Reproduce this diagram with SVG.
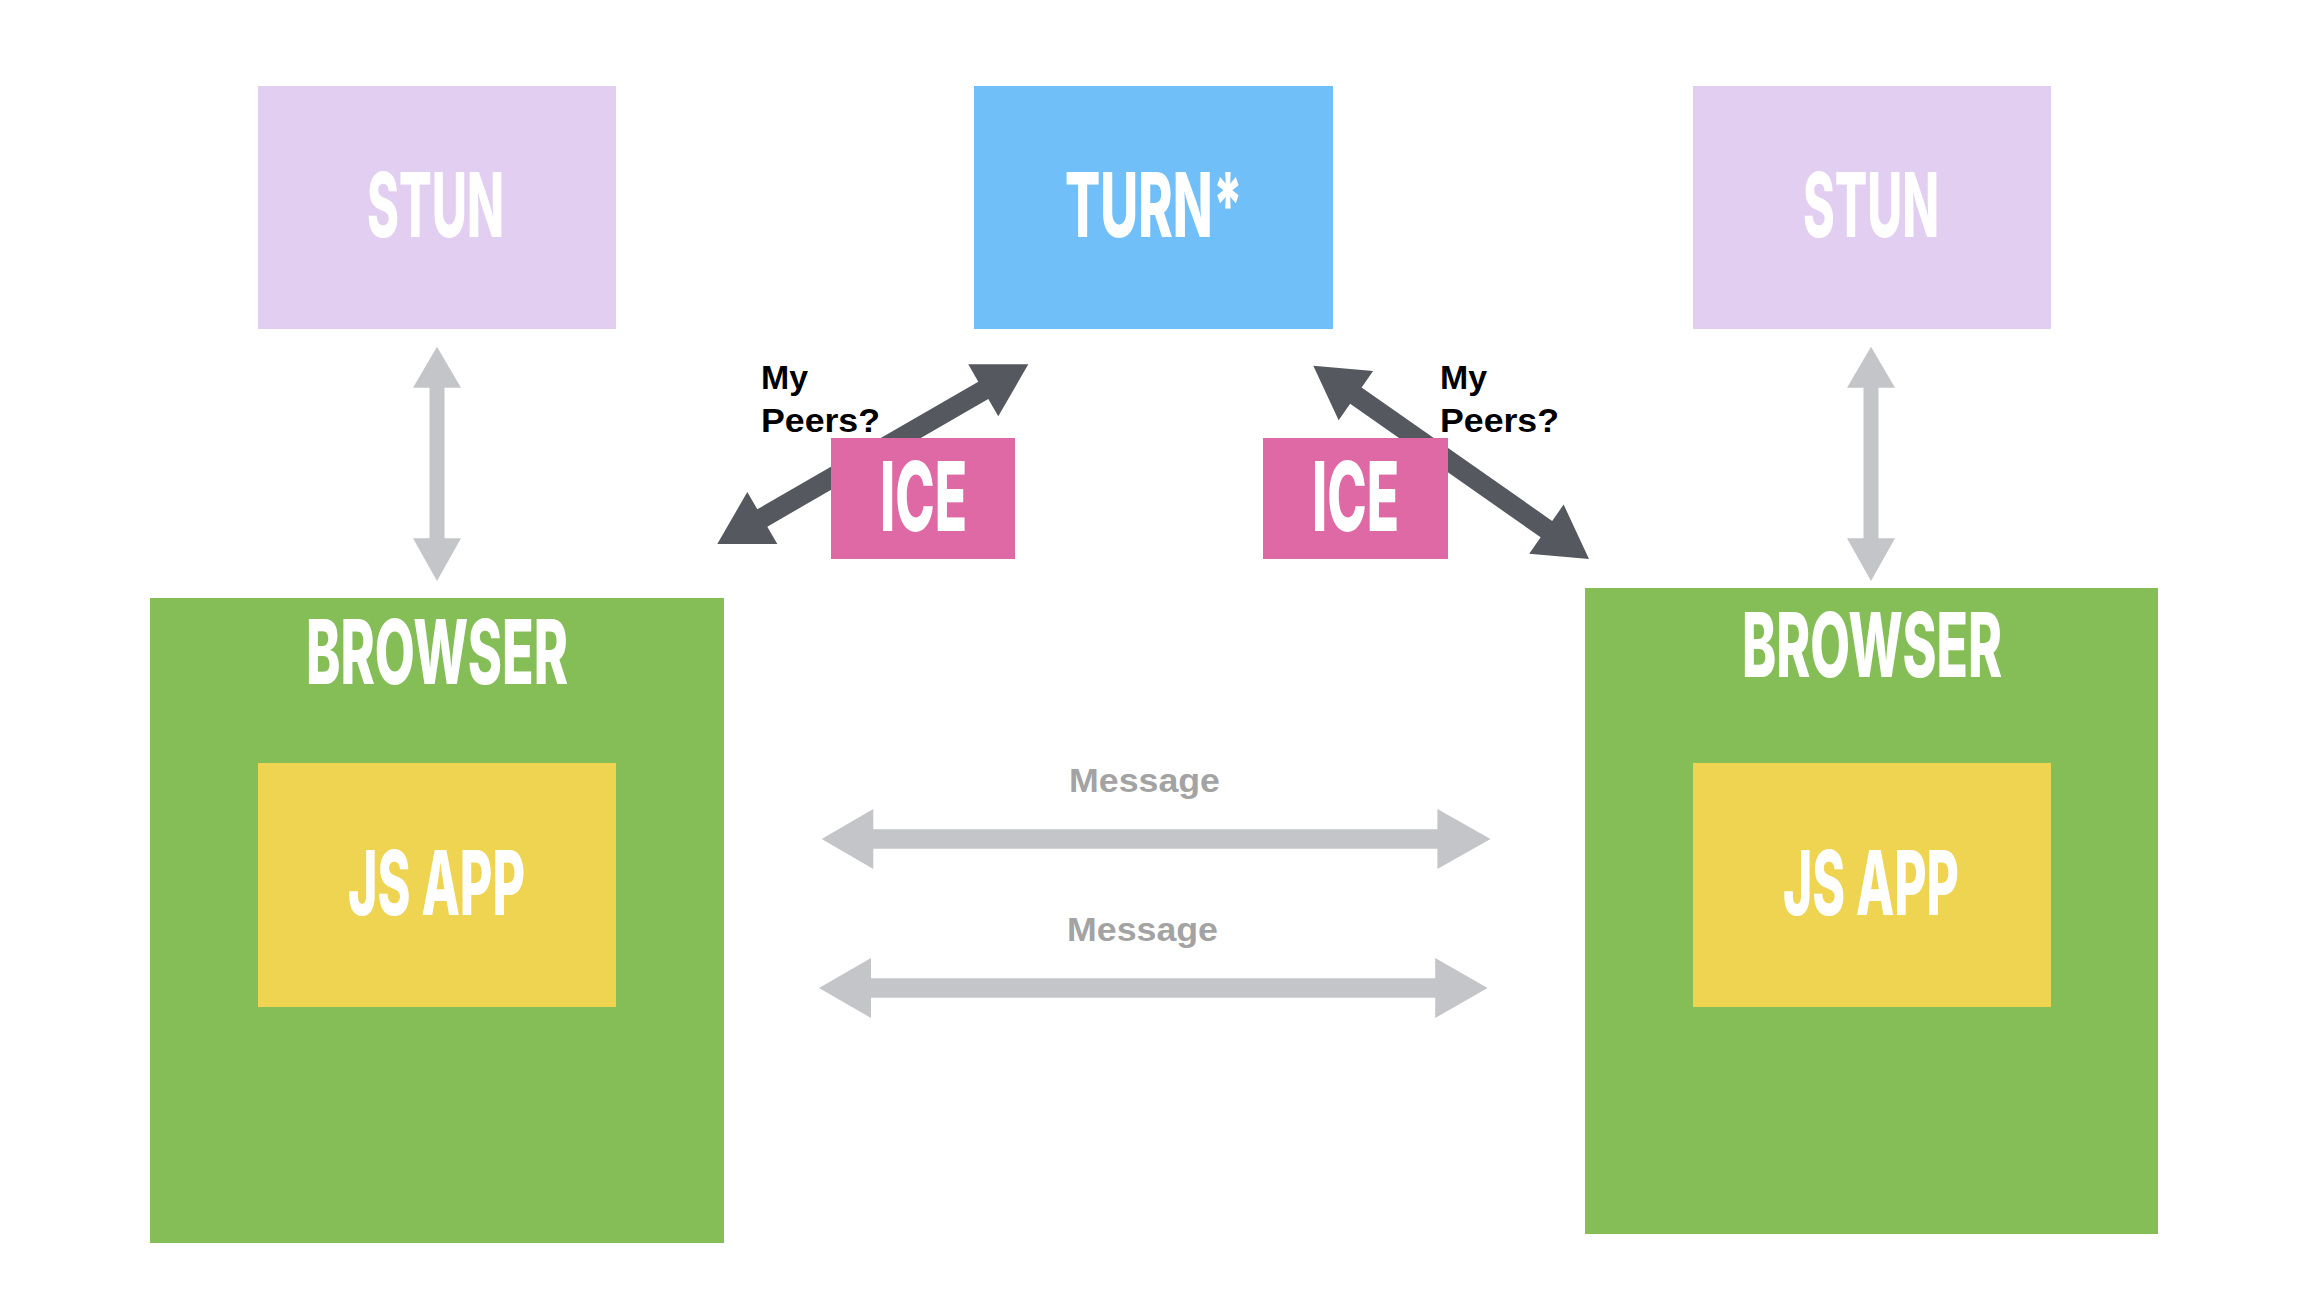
<svg xmlns="http://www.w3.org/2000/svg" width="2314" height="1302" viewBox="0 0 2314 1302">
  <style>
    .bg { fill: #ffffff; }
    .stun { fill: #E1CEF1; }
    .turn { fill: #71BFF8; }
    .ice { fill: #DF69A4; }
    .browser { fill: #85BD57; }
    .app { fill: #EED451; }
    .dark { fill: #55585F; }
    .grey { fill: #C4C5C8; }
    .big { font-family: Inter, "Liberation Sans", sans-serif; font-weight: 800; fill: #ffffff; font-size: 89px; }
    .ice-t { font-size: 96px; }
    .peers { font-family: "Liberation Sans", Arial, sans-serif; font-weight: 700; fill: #000000; font-size: 34px; }
    .msg { font-family: "Liberation Sans", Arial, sans-serif; font-weight: 700; fill: #A3A3A3; font-size: 33px; }
  </style>
  <rect class="bg" x="0" y="0" width="2314" height="1302"/>

  <g id="connectors">
    <polygon class="grey" points="437,346.7 461,387.7 444.5,387.7 444.5,538.3 461,538.3 437,581 413,538.3 429.5,538.3 429.5,387.7 413,387.7"/>
    <polygon class="grey" points="1871,346.7 1895,387.7 1878.5,387.7 1878.5,538.3 1895,538.3 1871,581 1847,538.3 1863.5,538.3 1863.5,387.7 1847,387.7"/>
    <polygon class="dark" transform="translate(872.8,454.15) rotate(-30.02)" points="-179.6,0 -127.6,-30 -127.6,-10 127.6,-10 127.6,-30 179.6,0 127.6,30 127.6,10 -127.6,10 -127.6,30"/>
    <polygon class="dark" transform="translate(1451.15,462.35) rotate(35.03)" points="-168.35,0 -116.35,-30 -116.35,-10 116.35,-10 116.35,-30 168.35,0 116.35,30 116.35,10 -116.35,10 -116.35,30"/>
    <polygon class="grey" points="821.7,839 873.3,809 873.3,829.3 1437.4,829.3 1437.4,809 1490.5,839 1437.4,869 1437.4,848.7 873.3,848.7 873.3,869"/>
    <polygon class="grey" points="819,988 871,958 871,978.3 1435.2,978.3 1435.2,958 1487.6,988 1435.2,1018 1435.2,997.7 871,997.7 871,1018"/>
    <text class="msg" x="1069" y="792" textLength="151" lengthAdjust="spacingAndGlyphs">Message</text>
    <text class="msg" x="1067" y="941" textLength="151" lengthAdjust="spacingAndGlyphs">Message</text>
    <text class="peers" x="761" y="389" textLength="47" lengthAdjust="spacingAndGlyphs">My</text>
    <text class="peers" x="761" y="432" textLength="119" lengthAdjust="spacingAndGlyphs">Peers?</text>
    <text class="peers" x="1440" y="389" textLength="47" lengthAdjust="spacingAndGlyphs">My</text>
    <text class="peers" x="1440" y="432" textLength="119" lengthAdjust="spacingAndGlyphs">Peers?</text>
  </g>

  <g id="stun-left">
    <rect class="stun" x="258" y="86" width="358" height="243"/>
    <text class="big" x="367" y="236.6" textLength="137" lengthAdjust="spacingAndGlyphs">STUN</text>
  </g>
  <g id="turn">
    <rect class="turn" x="974" y="86" width="359" height="243"/>
    <text class="big" x="1065" y="236.6" textLength="178" lengthAdjust="spacingAndGlyphs">TURN*</text>
  </g>
  <g id="stun-right">
    <rect class="stun" x="1693" y="86" width="358" height="243"/>
    <text class="big" x="1803" y="236.6" textLength="136" lengthAdjust="spacingAndGlyphs">STUN</text>
  </g>
  <g id="ice-left">
    <rect class="ice" x="831" y="438" width="184" height="121"/>
    <text class="big ice-t" x="880" y="531" textLength="87" lengthAdjust="spacingAndGlyphs">ICE</text>
  </g>
  <g id="ice-right">
    <rect class="ice" x="1263" y="438" width="185" height="121"/>
    <text class="big ice-t" x="1312" y="531" textLength="87" lengthAdjust="spacingAndGlyphs">ICE</text>
  </g>
  <g id="browser-left">
    <rect class="browser" x="150" y="598" width="574" height="645"/>
    <text class="big" x="306" y="684" textLength="262" lengthAdjust="spacingAndGlyphs">BROWSER</text>
  </g>
  <g id="jsapp-left">
    <rect class="app" x="258" y="763" width="358" height="244"/>
    <text class="big" x="348" y="914.6" textLength="177" lengthAdjust="spacingAndGlyphs">JS APP</text>
  </g>
  <g id="browser-right">
    <rect class="browser" x="1585" y="588" width="573" height="646"/>
    <text class="big" x="1742" y="676.7" textLength="260" lengthAdjust="spacingAndGlyphs">BROWSER</text>
  </g>
  <g id="jsapp-right">
    <rect class="app" x="1693" y="763" width="358" height="244"/>
    <text class="big" x="1783" y="914.6" textLength="176" lengthAdjust="spacingAndGlyphs">JS APP</text>
  </g>
</svg>
